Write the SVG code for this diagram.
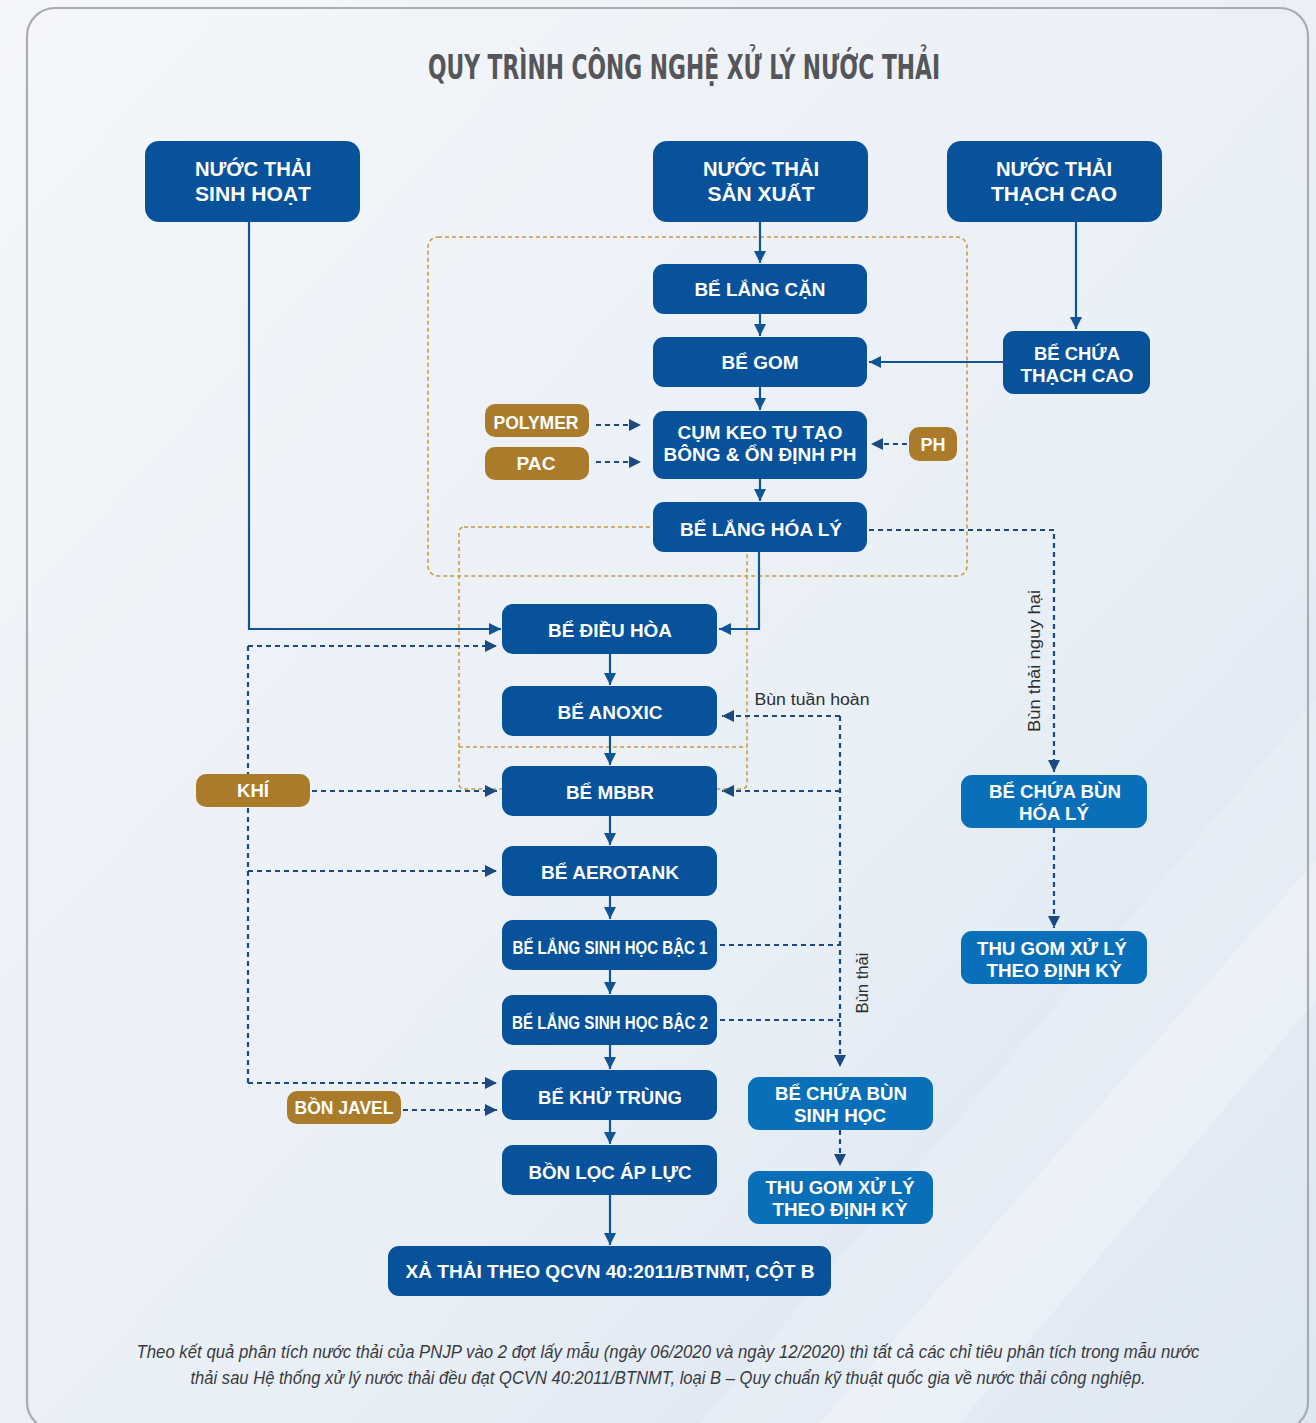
<svg xmlns="http://www.w3.org/2000/svg" width="1316" height="1423" viewBox="0 0 1316 1423">
<defs>
<linearGradient id="bg" x1="0" y1="0" x2="1" y2="1">
<stop offset="0" stop-color="#f4f6fa"/>
<stop offset="0.6" stop-color="#e9eff6"/>
<stop offset="1" stop-color="#d6e3f0"/>
</linearGradient>
<marker id="ah" viewBox="0 0 12 12" refX="12" refY="6" markerWidth="12" markerHeight="12" markerUnits="userSpaceOnUse" orient="auto">
<path d="M0,0 L12,6 L0,12 z" fill="#0f5494"/>
</marker>
<marker id="ahd" viewBox="0 0 12 12" refX="12" refY="6" markerWidth="12" markerHeight="12" markerUnits="userSpaceOnUse" orient="auto">
<path d="M0,0 L12,6 L0,12 z" fill="#1b4a80"/>
</marker>
<style>
.n rect{fill:#07529a}
.l rect{fill:#0a6fb9}
.g rect{fill:#aa7b2b}
.n text,.l text,.g text{font-family:"Liberation Sans",Arial,sans-serif;font-weight:bold;fill:#ffffff;text-anchor:middle}
.t19{font-size:19px}
.t21{font-size:21px}
.solid{stroke:#0f5494;stroke-width:2.2;fill:none}
.dash{stroke:#1b4a80;stroke-width:2.2;fill:none;stroke-dasharray:5 4}
.org{stroke:#c9963f;stroke-width:1.5;fill:none;stroke-dasharray:4 3}
.lab{font-family:"Liberation Sans",Arial,sans-serif;font-size:16px;fill:#2e2e2e}
</style>
</defs>
<rect x="0" y="0" width="1316" height="1423" fill="url(#bg)"/>
<path d="M700,1423 L1316,700 L1316,1423 Z" fill="#ffffff" opacity="0.18"/>
<path d="M820,1423 L1316,860 L1316,1000 L960,1423 Z" fill="#ffffff" opacity="0.25"/>
<rect x="27" y="8" width="1281" height="1422" rx="28" fill="none" stroke="#a9abb0" stroke-width="2.2"/>

<text x="684" y="79" font-family="'DejaVu Sans Condensed','DejaVu Sans',sans-serif" font-weight="bold" font-size="33" fill="#545659" text-anchor="middle" textLength="512" lengthAdjust="spacingAndGlyphs">QUY TRÌNH CÔNG NGHỆ XỬ LÝ NƯỚC THẢI</text>

<g id="groups">
<rect class="org" x="428" y="237" width="539" height="339" rx="10"/>
<rect class="org" x="459" y="527" width="288" height="262" rx="5"/>
<line class="org" x1="459" y1="747" x2="747" y2="747"/>
</g>

<g id="connectors">
<path class="solid" d="M760,222 V263" marker-end="url(#ah)"/>
<path class="solid" d="M760,314 V336" marker-end="url(#ah)"/>
<path class="solid" d="M760,387 V410" marker-end="url(#ah)"/>
<path class="solid" d="M760,479 V501" marker-end="url(#ah)"/>
<path class="solid" d="M759,552 V629 H719" marker-end="url(#ah)"/>
<path class="solid" d="M249,222 V629 H501" marker-end="url(#ah)"/>
<path class="solid" d="M1076,222 V329" marker-end="url(#ah)"/>
<path class="solid" d="M1003,362 H869" marker-end="url(#ah)"/>
<path class="solid" d="M610,654 V685" marker-end="url(#ah)"/>
<path class="solid" d="M610,736 V765" marker-end="url(#ah)"/>
<path class="solid" d="M610,816 V845" marker-end="url(#ah)"/>
<path class="solid" d="M610,896 V919" marker-end="url(#ah)"/>
<path class="solid" d="M610,970 V994" marker-end="url(#ah)"/>
<path class="solid" d="M610,1045 V1069" marker-end="url(#ah)"/>
<path class="solid" d="M610,1120 V1144" marker-end="url(#ah)"/>
<path class="solid" d="M610,1195 V1245" marker-end="url(#ah)"/>

<path class="dash" d="M596,425 H641" marker-end="url(#ahd)"/>
<path class="dash" d="M596,462 H641" marker-end="url(#ahd)"/>
<path class="dash" d="M907,444 H871" marker-end="url(#ahd)"/>
<path class="dash" d="M869,530 H1054 V772" marker-end="url(#ahd)"/>
<path class="dash" d="M1054,828 V928" marker-end="url(#ahd)"/>

<path class="dash" d="M248,646 V1083"/>
<path class="dash" d="M248,646 H497" marker-end="url(#ahd)"/>
<path class="dash" d="M248,871 H497" marker-end="url(#ahd)"/>
<path class="dash" d="M248,1083 H497" marker-end="url(#ahd)"/>
<path class="dash" d="M312,791 H497" marker-end="url(#ahd)"/>
<path class="dash" d="M403,1110 H497" marker-end="url(#ahd)"/>

<path class="dash" d="M840,716 V1067" marker-end="url(#ahd)"/>
<path class="dash" d="M840,716 H722" marker-end="url(#ahd)"/>
<path class="dash" d="M840,791 H722" marker-end="url(#ahd)"/>
<path class="dash" d="M720,945 H840"/>
<path class="dash" d="M720,1020 H840"/>
<path class="dash" d="M840,1130 V1166" marker-end="url(#ahd)"/>

<text class="lab" x="812" y="705" text-anchor="middle" textLength="115" lengthAdjust="spacingAndGlyphs">Bùn tuần hoàn</text>
<text class="lab" transform="translate(1040,661) rotate(-90)" text-anchor="middle" textLength="142" lengthAdjust="spacingAndGlyphs">Bùn thải nguy hại</text>
<text class="lab" transform="translate(868,983) rotate(-90)" text-anchor="middle" textLength="61" lengthAdjust="spacingAndGlyphs">Bùn thải</text>
</g>

<g id="n-sinhhoat" class="n"><rect x="145" y="141" width="215" height="81" rx="14"/>
<text class="t21" x="253" y="176" textLength="116" lengthAdjust="spacingAndGlyphs">NƯỚC THẢI</text>
<text class="t21" x="253" y="201" textLength="116" lengthAdjust="spacingAndGlyphs">SINH HOẠT</text></g>

<g id="n-sanxuat" class="n"><rect x="653" y="141" width="215" height="81" rx="14"/>
<text class="t21" x="761" y="176" textLength="116" lengthAdjust="spacingAndGlyphs">NƯỚC THẢI</text>
<text class="t21" x="761" y="201" textLength="107" lengthAdjust="spacingAndGlyphs">SẢN XUẤT</text></g>

<g id="n-thachcao" class="n"><rect x="947" y="141" width="215" height="81" rx="14"/>
<text class="t21" x="1054" y="176" textLength="116" lengthAdjust="spacingAndGlyphs">NƯỚC THẢI</text>
<text class="t21" x="1054" y="201" textLength="126" lengthAdjust="spacingAndGlyphs">THẠCH CAO</text></g>

<g id="n-langcan" class="n"><rect x="653" y="264" width="214" height="50" rx="11"/>
<text class="t19" x="760" y="296" textLength="131" lengthAdjust="spacingAndGlyphs">BỂ LẮNG CẶN</text></g>

<g id="n-gom" class="n"><rect x="653" y="337" width="214" height="50" rx="11"/>
<text class="t19" x="760" y="369" textLength="77" lengthAdjust="spacingAndGlyphs">BỂ GOM</text></g>

<g id="n-keotu" class="n"><rect x="653" y="411" width="214" height="68" rx="11"/>
<text class="t19" x="760" y="439" textLength="165" lengthAdjust="spacingAndGlyphs">CỤM KEO TỤ TẠO</text>
<text class="t19" x="760" y="461" textLength="193" lengthAdjust="spacingAndGlyphs">BÔNG &amp; ỔN ĐỊNH PH</text></g>

<g id="n-langhoaly" class="n"><rect x="653" y="502" width="214" height="50" rx="11"/>
<text class="t19" x="761" y="536" textLength="162" lengthAdjust="spacingAndGlyphs">BỂ LẮNG HÓA LÝ</text></g>

<g id="n-polymer" class="g"><rect x="485" y="404" width="104" height="33" rx="10"/>
<text class="t19" x="536" y="429" textLength="85" lengthAdjust="spacingAndGlyphs">POLYMER</text></g>

<g id="n-pac" class="g"><rect x="485" y="447" width="104" height="33" rx="10"/>
<text class="t19" x="536" y="470" textLength="39" lengthAdjust="spacingAndGlyphs">PAC</text></g>

<g id="n-ph" class="g"><rect x="909" y="427" width="48" height="34" rx="10"/>
<text class="t19" x="933" y="451" textLength="25" lengthAdjust="spacingAndGlyphs">PH</text></g>

<g id="n-chuathachcao" class="n"><rect x="1003" y="331" width="147" height="63" rx="11"/>
<text class="t19" x="1077" y="360" textLength="86" lengthAdjust="spacingAndGlyphs">BỂ CHỨA</text>
<text class="t19" x="1077" y="382" textLength="113" lengthAdjust="spacingAndGlyphs">THẠCH CAO</text></g>

<g id="n-dieuhoa" class="n"><rect x="502" y="604" width="215" height="50" rx="11"/>
<text class="t19" x="610" y="637" textLength="124" lengthAdjust="spacingAndGlyphs">BỂ ĐIỀU HÒA</text></g>

<g id="n-anoxic" class="n"><rect x="502" y="686" width="215" height="50" rx="11"/>
<text class="t19" x="610" y="719" textLength="105" lengthAdjust="spacingAndGlyphs">BỂ ANOXIC</text></g>

<g id="n-mbbr" class="n"><rect x="502" y="766" width="215" height="50" rx="11"/>
<text class="t19" x="610" y="799" textLength="88" lengthAdjust="spacingAndGlyphs">BỂ MBBR</text></g>

<g id="n-aerotank" class="n"><rect x="502" y="846" width="215" height="50" rx="11"/>
<text class="t19" x="610" y="879" textLength="138" lengthAdjust="spacingAndGlyphs">BỂ AEROTANK</text></g>

<g id="n-lang1" class="n"><rect x="502" y="920" width="215" height="50" rx="11"/>
<text class="t19" x="610" y="954" textLength="195" lengthAdjust="spacingAndGlyphs">BỂ LẮNG SINH HỌC BẬC 1</text></g>

<g id="n-lang2" class="n"><rect x="502" y="995" width="215" height="50" rx="11"/>
<text class="t19" x="610" y="1029" textLength="196" lengthAdjust="spacingAndGlyphs">BỂ LẮNG SINH HỌC BẬC 2</text></g>

<g id="n-khutrung" class="n"><rect x="502" y="1070" width="215" height="50" rx="11"/>
<text class="t19" x="610" y="1104" textLength="144" lengthAdjust="spacingAndGlyphs">BỂ KHỬ TRÙNG</text></g>

<g id="n-locapluc" class="n"><rect x="502" y="1145" width="215" height="50" rx="11"/>
<text class="t19" x="610" y="1179" textLength="163" lengthAdjust="spacingAndGlyphs">BỒN LỌC ÁP LỰC</text></g>

<g id="n-xathai" class="n"><rect x="388" y="1246" width="443" height="50" rx="11"/>
<text class="t19" x="610" y="1278" textLength="409" lengthAdjust="spacingAndGlyphs">XẢ THẢI THEO QCVN 40:2011/BTNMT, CỘT B</text></g>

<g id="n-khi" class="g"><rect x="196" y="774" width="114" height="33" rx="10"/>
<text class="t19" x="253" y="797" textLength="32" lengthAdjust="spacingAndGlyphs">KHÍ</text></g>

<g id="n-javel" class="g"><rect x="287" y="1091" width="114" height="33" rx="10"/>
<text class="t19" x="344" y="1114" textLength="99" lengthAdjust="spacingAndGlyphs">BỒN JAVEL</text></g>

<g id="n-bunhoaly" class="l"><rect x="961" y="775" width="186" height="53" rx="11"/>
<text class="t19" x="1055" y="798" textLength="132" lengthAdjust="spacingAndGlyphs">BỂ CHỨA BÙN</text>
<text class="t19" x="1054" y="820" textLength="70" lengthAdjust="spacingAndGlyphs">HÓA LÝ</text></g>

<g id="n-thugom1" class="l"><rect x="961" y="931" width="186" height="53" rx="11"/>
<text class="t19" x="1052" y="955" textLength="150" lengthAdjust="spacingAndGlyphs">THU GOM XỬ LÝ</text>
<text class="t19" x="1054" y="977" textLength="135" lengthAdjust="spacingAndGlyphs">THEO ĐỊNH KỲ</text></g>

<g id="n-bunsinhhoc" class="l"><rect x="748" y="1077" width="185" height="53" rx="11"/>
<text class="t19" x="841" y="1100" textLength="132" lengthAdjust="spacingAndGlyphs">BỂ CHỨA BÙN</text>
<text class="t19" x="840" y="1122" textLength="92" lengthAdjust="spacingAndGlyphs">SINH HỌC</text></g>

<g id="n-thugom2" class="l"><rect x="748" y="1171" width="185" height="53" rx="11"/>
<text class="t19" x="840" y="1194" textLength="149" lengthAdjust="spacingAndGlyphs">THU GOM XỬ LÝ</text>
<text class="t19" x="840" y="1216" textLength="135" lengthAdjust="spacingAndGlyphs">THEO ĐỊNH KỲ</text></g>

<g id="footnote" font-family="'Liberation Sans',Arial,sans-serif" font-style="italic" font-size="18" fill="#3a3a3c" text-anchor="middle">
<text x="668" y="1358" textLength="1063" lengthAdjust="spacingAndGlyphs">Theo kết quả phân tích nước thải của PNJP vào 2 đợt lấy mẫu (ngày 06/2020 và ngày 12/2020) thì tất cả các chỉ tiêu phân tích trong mẫu nước</text>
<text x="668" y="1384" textLength="955" lengthAdjust="spacingAndGlyphs">thải sau Hệ thống xử lý nước thải đều đạt QCVN 40:2011/BTNMT, loại B – Quy chuẩn kỹ thuật quốc gia về nước thải công nghiệp.</text>
</g>
</svg>
